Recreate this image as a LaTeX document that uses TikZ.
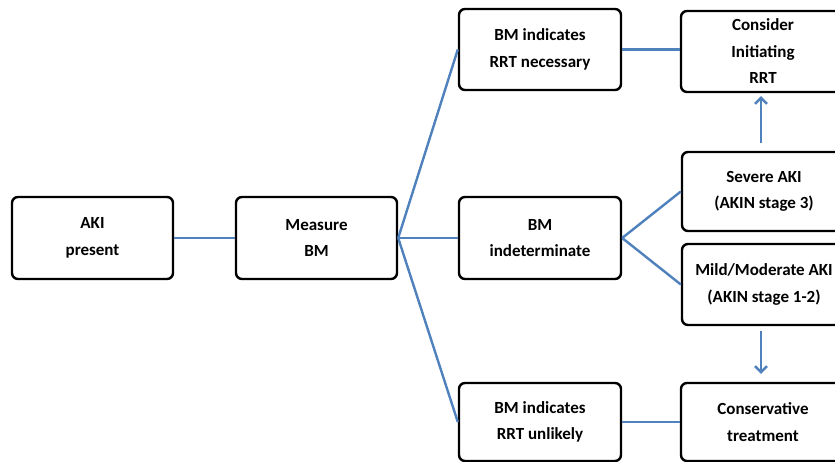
\documentclass[tikz,border=0pt]{standalone}
\usepackage{fontspec}
\setmainfont{Carlito}
\usetikzlibrary{arrows.meta}
\definecolor{linkblue}{RGB}{79,129,189}
\begin{document}
\begin{tikzpicture}[x=1pt,y=-1pt,
  box/.style={draw=black, line width=2.4pt, rounded corners=6pt, align=center,
    font=\bfseries\fontsize{17}{26.5}\selectfont, text=black, inner sep=0pt},
  link/.style={draw=linkblue, line width=2.4pt},
  arr/.style={draw=linkblue, line width=2.4pt, -{Straight Barb[length=6pt,width=12pt,line width=2.4pt]}}]
\useasboundingbox (0,0) rectangle (835,462);
\fill[white] (0,0) rectangle (835,462);
\clip (0,0) rectangle (835,462);
\node[box, minimum width=161pt, minimum height=82pt] (aki) at (92.5,238) {AKI\\present};
\node[box, minimum width=161pt, minimum height=82pt] (meas) at (316.5,238) {Measure\\BM};
\node[box, minimum width=162pt, minimum height=81pt] (nec) at (540,49.5) {BM indicates\\RRT necessary};
\node[box, minimum width=162pt, minimum height=82pt] (ind) at (540,238) {BM\\indeterminate};
\node[box, minimum width=162pt, minimum height=78pt] (unl) at (540,422) {BM indicates\\RRT unlikely};
\node[box, minimum width=164pt, minimum height=81pt] (cons) at (763,51.5) {Consider\\Initiating\\RRT};
\node[box, minimum width=164pt, minimum height=79pt] (sev) at (764,191.5) {Severe AKI\\(AKIN stage 3)};
\node[box, minimum width=164pt, minimum height=81pt] (mild) at (764,284.5) {Mild/Moderate AKI\\(AKIN stage 1-2)};
\node[box, minimum width=164pt, minimum height=78pt] (csv) at (763,422) {Conservative\\treatment};
\draw[link] (aki.east) -- (meas.east -| meas.west);
\draw[link] (meas.east) -- (nec.west);
\draw[link] (meas.east) -- (ind.west);
\draw[link] (meas.east) -- (unl.west);
\draw[link] (nec.east) -- (nec.east -| cons.west);
\draw[link] (unl.east) -- (unl.east -| csv.west);
\draw[link] (ind.east) -- (sev.west);
\draw[link] (ind.east) -- (mild.west);
\draw[arr] ([xshift=-3pt,yshift=8pt]sev.north) -- ([xshift=-3pt,yshift=-3pt]sev.north |- cons.south);
\draw[arr] ([xshift=-3pt,yshift=-5pt]mild.south) -- ([xshift=-3pt,yshift=8pt]mild.south |- csv.north);
\end{tikzpicture}
\end{document}
